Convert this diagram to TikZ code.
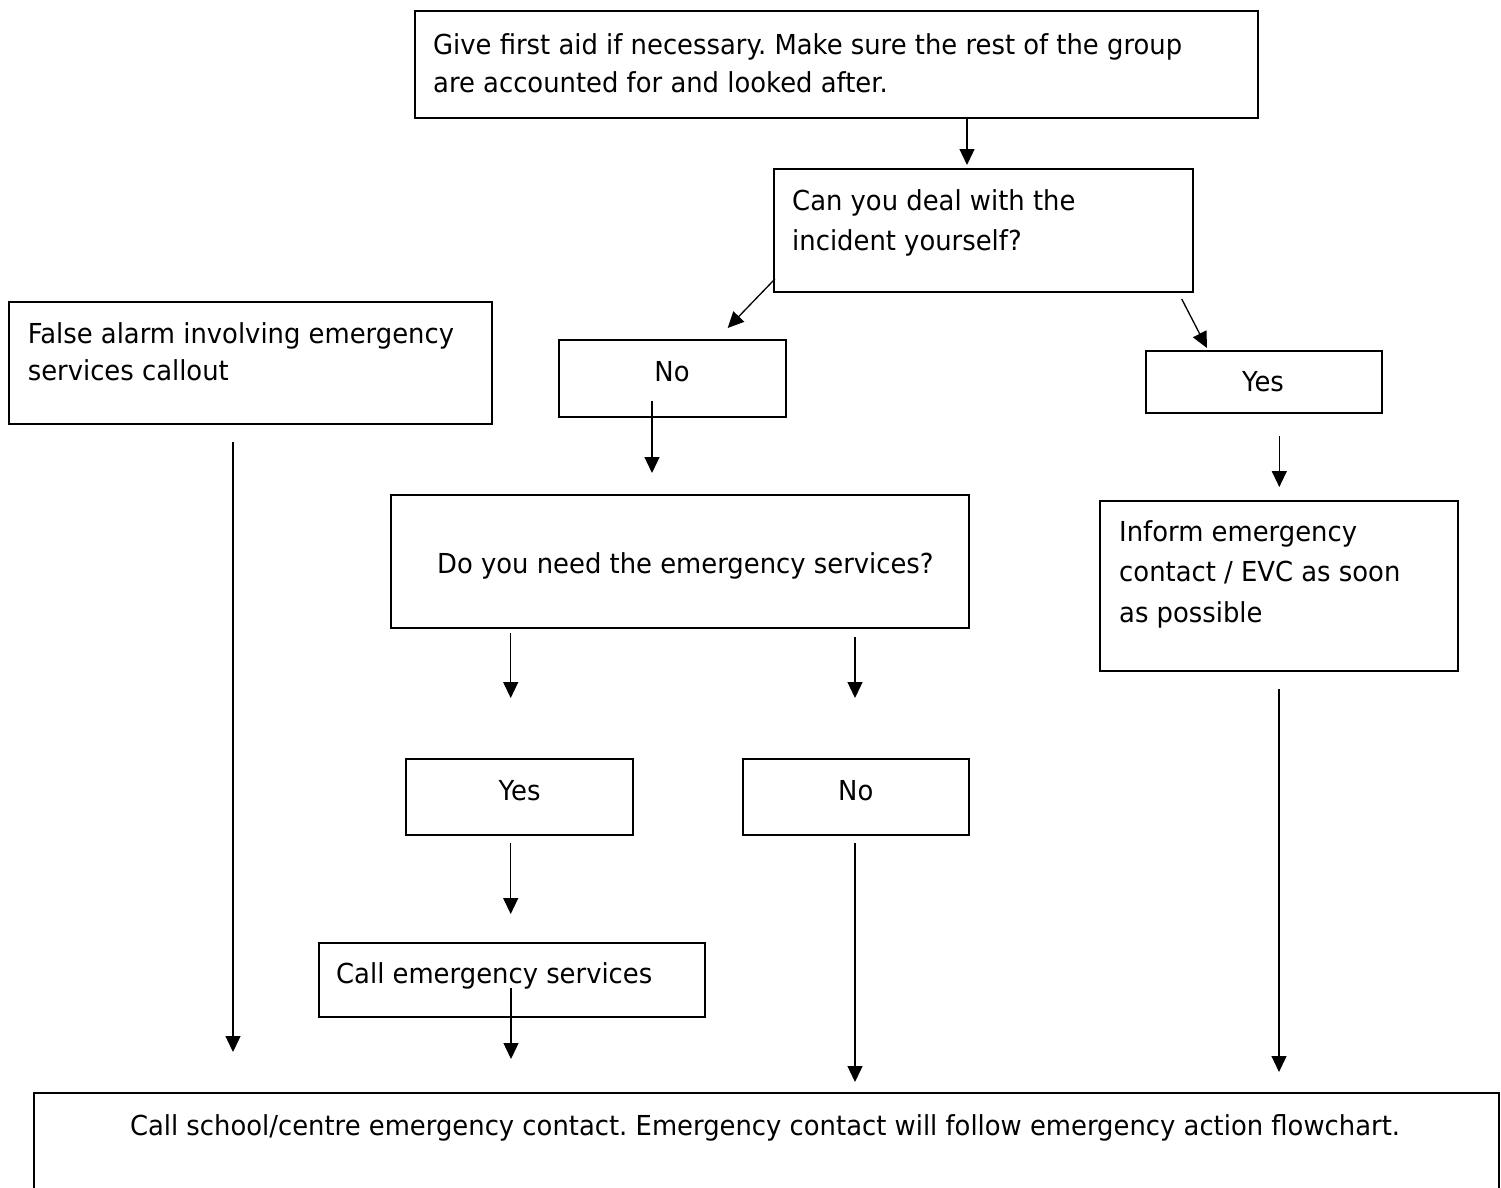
\documentclass[tikz,border=0pt]{standalone}
\usepackage{fontspec}
\setmainfont{DejaVu Sans}[FakeStretch=0.94]
\usetikzlibrary{arrows.meta}
\newcommand\ffsz{\fontsize{27.5}{32}\selectfont}
\frenchspacing
\begin{document}
\frenchspacing
\begin{tikzpicture}[x=1pt,y=-1pt,
  box/.style={draw, line width=2pt, inner sep=0pt},
  txt/.style={inner sep=0pt, anchor=base west, font=\ffsz},
  ctxt/.style={inner sep=0pt, anchor=base, font=\ffsz},
  conn/.style={line width=1.3pt, -{Triangle[length=16pt,width=15pt]}}]
\useasboundingbox (0,0) rectangle (1501,1187);
\clip (0,0) rectangle (1501,1187);
\fill[white] (0,0) rectangle (1501,1187);
% boxes
\node[box, minimum width=843.1pt, minimum height=107pt] (A) at (836.15,64.5) {};
\node[box, minimum width=419.2pt, minimum height=123pt] (B) at (983.4,230.5) {};
\node[box, minimum width=482.8pt, minimum height=122.6pt] (F) at (250.6,363) {};
\node[box, minimum width=227.2pt, minimum height=76.5pt] (N1) at (672.1,378.25) {};
\node[box, minimum width=236.3pt, minimum height=62.3pt] (Y1) at (1263.85,381.85) {};
\node[box, minimum width=578.5pt, minimum height=133pt] (D) at (679.75,561.5) {};
\node[box, minimum width=358pt, minimum height=170pt] (I) at (1279,585.7) {};
\node[box, minimum width=227pt, minimum height=76.3pt] (Y2) at (519.5,796.85) {};
\node[box, minimum width=226pt, minimum height=76.3pt] (N2) at (856,796.85) {};
\node[box, minimum width=386.5pt, minimum height=74.6pt] (C) at (512.05,980) {};
\node[box, minimum width=1465pt, minimum height=116.7pt] (E) at (766,1151.65) {};
% texts
\node[txt] (tA1) at (433,54) {Give first aid if necessary. Make sure the rest of the group};
\node[txt] (tA2) at (433,92) {are accounted for and looked after.};
\node[txt] (tB1) at (792,210.7) {Can you deal with the};
\node[txt] (tB2) at (792,250) {incident yourself?};
\node[txt] (tF1) at (27.6,343.3) {False alarm involving emergency};
\node[txt] (tF2) at (27.6,380) {services callout};
\node[ctxt] (tN1) at (672,381.5) {No};
\node[ctxt] (tY1) at (1263,391.7) {Yes};
\node[txt] (tD) at (437,573.3) {Do you need the emergency services?};
\node[txt] (tI1) at (1119,541.7) {Inform emergency};
\node[txt] (tI2) at (1119,581.7) {contact / EVC as soon};
\node[txt] (tI3) at (1119,622.3) {as possible};
\node[ctxt] (tY2) at (519.6,800) {Yes};
\node[ctxt] (tN2) at (855.8,800) {No};
\node[txt] (tC) at (336,983.3) {Call emergency services};
\node[ctxt] (tE) at (765,1135) {Call school/centre emergency contact. Emergency contact will follow emergency action flowchart.};
% connector end points
\coordinate (a1) at (967,118);    \coordinate (a2) at (967,165);
\coordinate (b1) at (774.9,279);  \coordinate (b2) at (727.7,328);
\coordinate (b3) at (1181.7,299); \coordinate (b4) at (1207,348);
\coordinate (n1) at (652,401);    \coordinate (n2) at (652,473);
\coordinate (y1) at (1279.3,436); \coordinate (y2) at (1279.3,487);
\coordinate (d1) at (510.7,633);  \coordinate (d2) at (510.7,698);
\coordinate (d3) at (855,637);    \coordinate (d4) at (855,698);
\coordinate (s1) at (510.7,843);  \coordinate (s2) at (510.7,914);
\coordinate (m1) at (855,843);    \coordinate (m2) at (855,1082);
\coordinate (c1) at (511,988);    \coordinate (c2) at (511,1059);
\coordinate (f1) at (233,442);    \coordinate (f2) at (233,1052);
\coordinate (i1) at (1279,689);   \coordinate (i2) at (1279,1072);
% connectors
\draw[conn] (a1) -- (a2);
\draw[conn] (b1) -- (b2);
\draw[conn] (b3) -- (b4);
\draw[conn] (n1) -- (n2);
\draw[conn] (y1) -- (y2);
\draw[conn] (d1) -- (d2);
\draw[conn] (d3) -- (d4);
\draw[conn] (s1) -- (s2);
\draw[conn] (m1) -- (m2);
\draw[conn] (c1) -- (c2);
\draw[conn] (f1) -- (f2);
\draw[conn] (i1) -- (i2);
\end{tikzpicture}
\end{document}
